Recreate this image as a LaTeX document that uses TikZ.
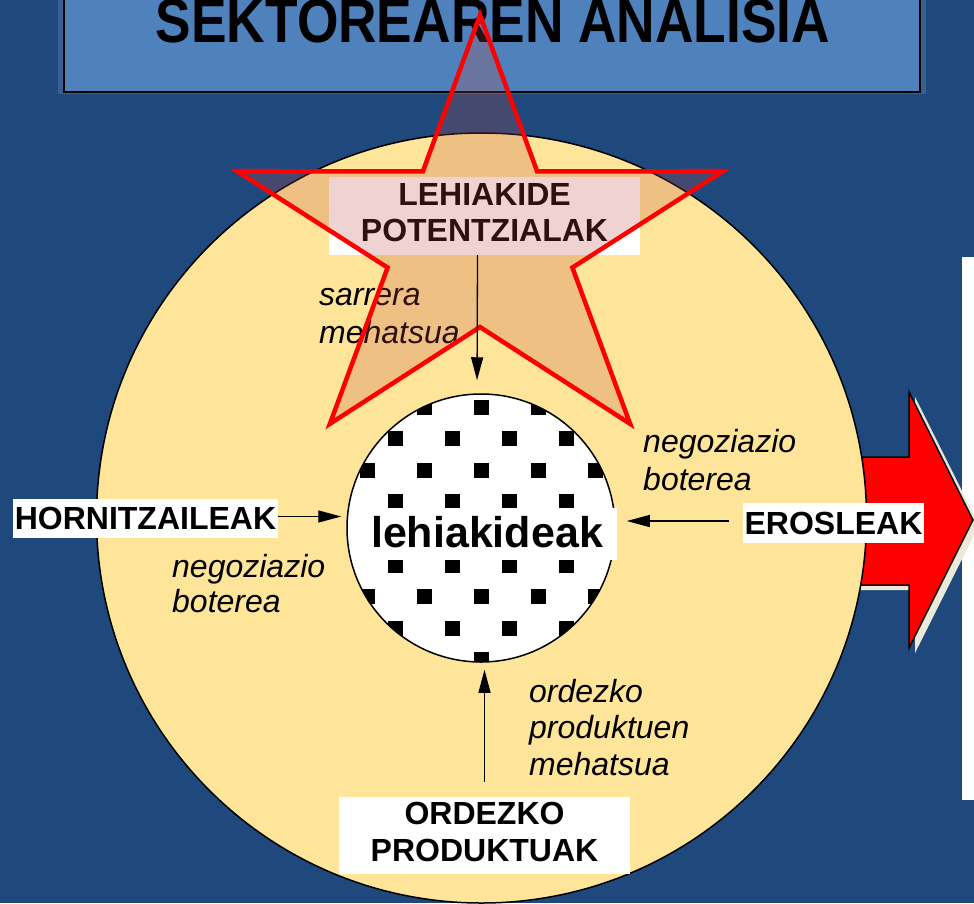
\documentclass[tikz,border=0pt]{standalone}
\usepackage{fontspec}
\usepackage{graphicx}
\setmainfont{Liberation Sans}
\usetikzlibrary{arrows.meta}
\definecolor{bgblue}{RGB}{31,73,125}
\definecolor{framebl}{RGB}{55,96,146}
\definecolor{titlebl}{RGB}{79,129,189}
\definecolor{sand}{RGB}{255,229,153}
\definecolor{starfill}{RGB}{191,75,67}
\definecolor{shadowc}{RGB}{236,233,216}
\tikzset{
  lbl/.style={fill=white, inner sep=0pt, font=\fontsize{32}{#1}\bfseries\selectfont},
  lbl/.default=36,
  ital/.style={inner sep=0pt, anchor=base west, font=\fontsize{32}{#1}\itshape\selectfont},
  arr/.style={-{Triangle[length=23pt,width=12pt]}, line width=1.3pt},
}
\begin{document}
\begin{tikzpicture}[x=1pt,y=-1pt]
\useasboundingbox (0,0) rectangle (974,903);
\clip (0,0) rectangle (974,903);
\fill[bgblue] (0,0) rectangle (974,903);
% title
\fill[framebl] (58,-5) rectangle (926,94);
\draw[fill=titlebl, line width=1.5pt] (64,-5) rectangle (920,92);
\node[anchor=base, inner sep=0pt] (title) at (493,42)
  {\fontsize{62}{70}\bfseries\selectfont\scalebox{0.86}[1]{SEKTOREAREN ANALISIA}};
% right white strip
\fill[white] (962,257) rectangle (980,800);
% big red arrow with shadow
\path[fill=shadowc, shift={(6,5)}] (830,457) -- (909,457) -- (909,392) -- (973,520)
  -- (909,648) -- (909,585) -- (830,585) -- cycle;
\draw[fill=red, line width=1.5pt, line join=miter] (830,457) -- (909,457) -- (909,392)
  -- (973,520) -- (909,648) -- (909,585) -- (830,585) -- cycle;
% sector circle
\node[circle, draw, line width=1.5pt, fill=sand, minimum size=770pt, inner sep=0pt]
  (sector) at (481.5,518) {};
% competitors circle with square pattern
\node[circle, draw, line width=1.5pt, fill=white, minimum size=268pt, inner sep=0pt,
  path picture={
    \foreach \n in {0,...,8} {
      \pgfmathsetmacro\dy{-121+31.6*\n}
      \pgfmathsetmacro\off{mod(\n,2)*28.5}
      \foreach \k in {-4,...,4} {
        \pgfmathsetmacro\dx{\off+57*\k}
        \fill[black] ([shift={(\dx-7.5,\dy-7.5)}]path picture bounding box.center)
          rectangle ++(15,15);
      }
    }
  }] (comp) at (481,528) {};
\node[fill=white, inner sep=0pt, minimum width=260pt, minimum height=52pt,
  text height=32pt, text depth=6pt, font=\fontsize{43}{50}\bfseries\selectfont]
  (lk) at (487,534) {lehiakideak};
% labels
\node[lbl, minimum width=311pt, minimum height=78pt] (lp) at (484.5,216)
  {\begin{tabular}{@{}c@{}}LEHIAKIDE\\POTENTZIALAK\end{tabular}};
\node[lbl, minimum width=265pt, minimum height=39pt] (hor) at (145.5,518.5) {HORNITZAILEAK};
\node[lbl, minimum width=181pt, minimum height=40pt] (ero) at (833.5,523) {EROSLEAK};
\node[lbl=37, minimum width=291pt, minimum height=77pt] (ord) at (484.5,835.5)
  {\begin{tabular}{@{}c@{}}ORDEZKO\\PRODUKTUAK\end{tabular}};
% italic texts
\node[ital=38] (sarr) at (319,305) {\begin{tabular}[t]{@{}l@{}}sarrera\\mehatsua\end{tabular}};
\node[ital=38] (negR) at (643,452) {\begin{tabular}[t]{@{}l@{}}negoziazio\\boterea\end{tabular}};
\node[ital=35] (negL) at (172,577) {\begin{tabular}[t]{@{}l@{}}negoziazio\\boterea\end{tabular}};
\node[ital=36.5] (ordz) at (529,702) {\begin{tabular}[t]{@{}l@{}}ordezko\\produktuen\\mehatsua\end{tabular}};
% star
\draw[red, line width=4.5pt, line join=miter, fill=starfill, fill opacity=0.24]
  (480,15) -- (537.1,171.4) -- (722.9,171.2) -- (572.4,267.6) -- (630.1,423.8)
  -- (480,327) -- (329.9,423.8) -- (387.6,267.6) -- (237.1,171.2) -- (422.9,171.4) -- cycle;
% connectors
\draw[arr, shorten >=13pt] ([xshift=-7pt]lp.south) -- ([xshift=-4pt]comp.north);
\draw[arr, shorten >=5pt] ([yshift=2pt]hor.east) -- ([yshift=2pt]hor.east -| comp.west);
\draw[arr, shorten <=14pt, shorten >=11pt] ([yshift=2pt]ero.west) -- ([yshift=2pt]ero.west -| comp.east);
\draw[arr, shorten <=15pt, shorten >=7pt] (ord.north) -- (ord.north |- comp.south);
\end{tikzpicture}
\end{document}
